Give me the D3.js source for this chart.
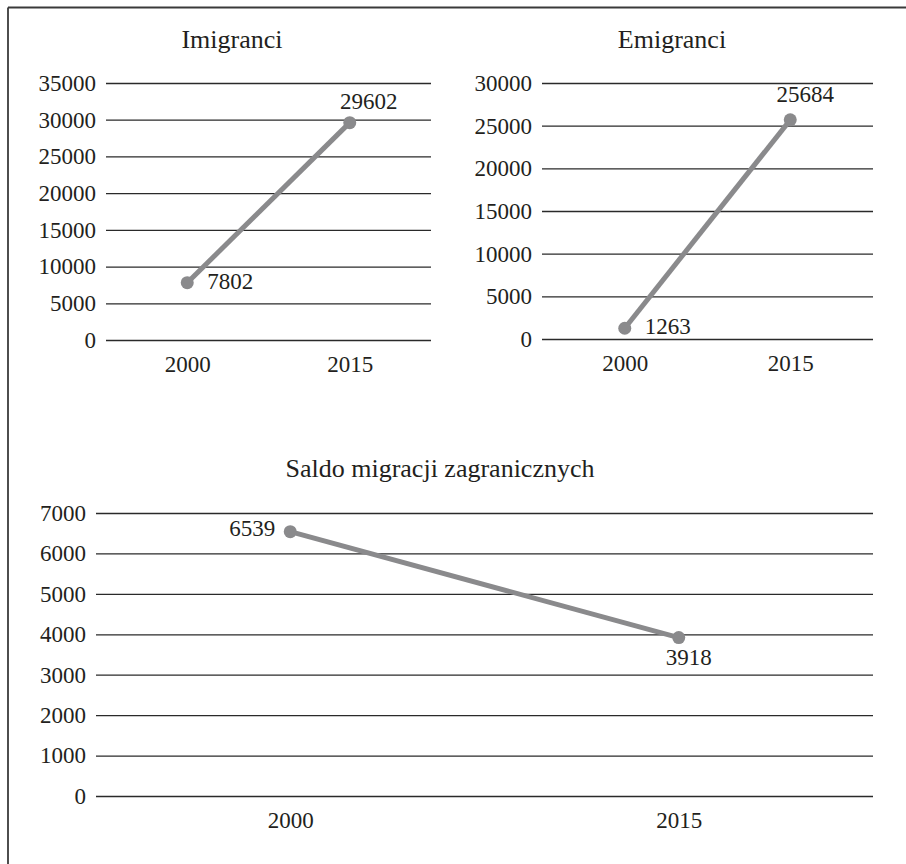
<!DOCTYPE html>
<html>
<head>
<meta charset="utf-8">
<script src="https://cdn.jsdelivr.net/npm/d3@7"></script>
<style>
  html, body { margin: 0; padding: 0; background: #fff; }
  svg { display: block; }
  svg text { font-family: "Liberation Serif", "Times New Roman", Times, "DejaVu Serif", serif !important; fill: #231f20; }
</style>
</head>
<body>
<svg id="chart" width="906" height="864"></svg>
<script>
// ---- data ----
const years = ["2000", "2015"];
const imigranci = [7802, 29602];
const emigranci = [1263, 25684];
const saldo = [6539, 3918];
const imigranciTicks = [0, 5000, 10000, 15000, 20000, 25000, 30000, 35000];
const emigranciTicks = [0, 5000, 10000, 15000, 20000, 25000, 30000];
const saldoTicks = [0, 1000, 2000, 3000, 4000, 5000, 6000, 7000];
const titles = ["Imigranci", "Emigranci", "Saldo migracji zagranicznych"];

// ---- layout / style ----
const panels = [
  { title: titles[0], values: imigranci, ticks: imigranciTicks,
    x0: 106, x1: 431, yTop: 83, yBot: 340, titleX: 232, titleY: 48,
    labels: [{dx: 20, dy: 6.5, anchor: "start"}, {dx: 19, dy: -14, anchor: "middle"}] },
  { title: titles[1], values: emigranci, ticks: emigranciTicks,
    x0: 542, x1: 873, yTop: 83, yBot: 339, titleX: 672, titleY: 48,
    labels: [{dx: 20, dy: 6, anchor: "start"}, {dx: 15, dy: -18, anchor: "middle"}] },
  { title: titles[2], values: saldo, ticks: saldoTicks,
    x0: 96, x1: 873, yTop: 513, yBot: 796, titleX: 440, titleY: 477,
    labels: [{dx: -15, dy: 4.5, anchor: "end"}, {dx: 10, dy: 27, anchor: "middle"}] }
];

const FONT = "'Liberation Serif', 'Times New Roman', Times, 'DejaVu Serif', serif";
const svg = d3.select("#chart");

// frame (top and left edges visible)
svg.append("line").attr("x1", 8).attr("x2", 906).attr("y1", 7.5).attr("y2", 7.5)
  .attr("stroke", "#3a3a3a").attr("stroke-width", 1.8);
svg.append("line").attr("x1", 8).attr("x2", 8).attr("y1", 7.5).attr("y2", 864)
  .attr("stroke", "#3a3a3a").attr("stroke-width", 1.8);

panels.forEach(p => {
  const x = d3.scalePoint().domain(years).range([p.x0, p.x1]).padding(0.5);
  const y = d3.scaleLinear().domain([0, d3.max(p.ticks)]).range([p.yBot, p.yTop]);
  const g = svg.append("g").attr("font-family", FONT);

  g.append("text").attr("x", p.titleX).attr("y", p.titleY)
    .attr("text-anchor", "middle").attr("font-family", FONT)
    .style("font-size", "26px").text(p.title);

  // y axis with gridlines
  const yAxis = d3.axisLeft(y).tickValues(p.ticks).tickFormat(d3.format("d"))
    .tickSize(-(p.x1 - p.x0)).tickPadding(10);
  const ya = g.append("g").attr("transform", `translate(${p.x0},0)`).call(yAxis)
    .attr("font-family", FONT);
  ya.select(".domain").remove();
  ya.selectAll(".tick line").attr("stroke", "#2a2a2a").attr("stroke-width", 1.3);
  ya.selectAll(".tick text").attr("font-family", FONT).style("font-size", "23px")
    .attr("fill", "#231f20").attr("dy", "0.32em");

  // x axis labels
  const xAxis = d3.axisBottom(x).tickSize(0).tickPadding(0);
  const xa = g.append("g").attr("transform", `translate(0,${p.yBot})`).call(xAxis)
    .attr("font-family", FONT);
  xa.select(".domain").remove();
  xa.selectAll(".tick text").attr("font-family", FONT).style("font-size", "23px")
    .attr("fill", "#231f20").attr("y", 32).attr("dy", 0);

  // line
  const line = d3.line().x((d, i) => x(years[i])).y(d => y(d));
  g.append("path").datum(p.values).attr("d", line)
    .attr("fill", "none").attr("stroke", "#8a8a8c").attr("stroke-width", 5);
  g.selectAll("circle.pt").data(p.values).join("circle")
    .attr("cx", (d, i) => x(years[i])).attr("cy", d => y(d)).attr("r", 6.5)
    .attr("fill", "#8a8a8c");

  // data labels
  g.selectAll("text.lbl").data(p.values).join("text")
    .attr("class", "lbl")
    .attr("x", (d, i) => x(years[i]) + p.labels[i].dx)
    .attr("y", (d, i) => y(d) + p.labels[i].dy)
    .attr("text-anchor", (d, i) => p.labels[i].anchor)
    .attr("font-family", FONT)
    .style("font-size", "23px").text(d => d);
});
</script>
</body>
</html>
